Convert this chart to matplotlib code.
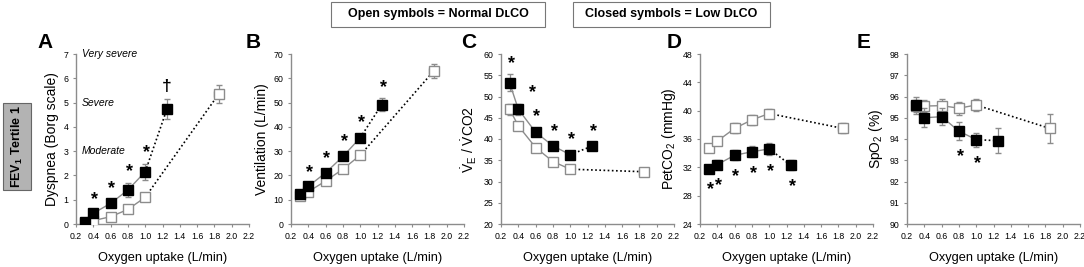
import matplotlib.pyplot as plt
import numpy as np
import matplotlib as mpl
from matplotlib.patches import Rectangle

plt.style.use("default")
mpl.rcParams["font.family"] = ["Liberation Sans", "DejaVu Sans"]
mpl.rcParams["mathtext.fontset"] = "custom"
mpl.rcParams["mathtext.rm"] = "Liberation Sans"
mpl.rcParams["mathtext.it"] = "Liberation Sans:italic"
mpl.rcParams["mathtext.bf"] = "Liberation Sans:bold"

# -----------------------------
# Data (closed = low DLCO, open = normal DLCO)
# -----------------------------
x_closed = [0.3, 0.4, 0.6, 0.8, 1.0, 1.25]
x_open = [0.3, 0.4, 0.6, 0.8, 1.0, 1.85]
xerr_closed_peak = 0.03
xerr_open_peak = 0.05

dysp_closed = [0.1, 0.44, 0.85, 1.4, 2.15, 4.72]
dysp_closed_err = [0.05, 0.12, 0.15, 0.3, 0.33, 0.41]
dysp_open = [0.05, 0.14, 0.3, 0.6, 1.1, 5.35]
dysp_open_err = [0.03, 0.05, 0.08, 0.1, 0.16, 0.38]
dysp_stars = [0, 1, 1, 1, 1, 0]

vent_closed = [12.5, 15.5, 21.1, 27.8, 35.5, 49.2]
vent_closed_err = [1.0, 1.0, 1.2, 1.5, 1.5, 2.5]
vent_open = [11.5, 13.3, 17.7, 22.6, 28.3, 63.0]
vent_open_err = [1.0, 1.0, 1.0, 1.0, 1.2, 2.8]
vent_stars = [0, 1, 1, 1, 1, 1]

veco2_closed = [53.2, 47.0, 41.6, 38.4, 36.3, 38.3]
veco2_closed_err = [2.0, 1.3, 1.0, 0.8, 0.8, 0.8]
veco2_open = [47.0, 43.1, 38.0, 34.7, 32.9, 32.3]
veco2_open_err = [1.3, 0.8, 0.6, 0.6, 0.6, 0.6]
veco2_stars = [1, 1, 1, 1, 1, 1]

petco2_closed = [31.7, 32.4, 33.7, 34.2, 34.6, 32.3]
petco2_closed_err = [0.5, 0.6, 0.7, 0.8, 0.8, 0.7]
petco2_open = [34.7, 35.7, 37.5, 38.7, 39.6, 37.5]
petco2_open_err = [0.5, 0.6, 0.7, 0.7, 0.7, 0.7]
petco2_stars = [1, 1, 1, 1, 1, 1]

spo2_closed = [95.58, 95.0, 95.05, 94.37, 93.97, 93.92]
spo2_closed_err = [0.4, 0.45, 0.4, 0.42, 0.33, 0.6]
spo2_open = [95.55, 95.55, 95.57, 95.45, 95.6, 94.5]
spo2_open_err = [0.3, 0.3, 0.3, 0.3, 0.3, 0.67]
spo2_stars = [0, 0, 0, 1, 1, 0]

x_ticks = np.round(np.arange(0.2, 2.21, 0.2), 1)

panels = [
    dict(letter="A", ylabel="Dyspnea (Borg scale)", ylim=(0, 7), yticks=np.arange(0, 8, 1),
         closed=dysp_closed, cerr=dysp_closed_err, open=dysp_open, oerr=dysp_open_err,
         stars=dysp_stars, star_dir=1, left=76, letter_x=-0.18),
    dict(letter="B", ylabel="Ventilation (L/min)", ylim=(0, 70), yticks=np.arange(0, 71, 10),
         closed=vent_closed, cerr=vent_closed_err, open=vent_open, oerr=vent_open_err,
         stars=vent_stars, star_dir=1, left=291, letter_x=-0.22),
    dict(letter="C", ylabel=r"$\dot{\mathrm{V}}_{\mathrm{E}}$ / $\dot{\mathrm{V}}$CO2", ylim=(20, 60),
         yticks=np.arange(20, 61, 5),
         closed=veco2_closed, cerr=veco2_closed_err, open=veco2_open, oerr=veco2_open_err,
         stars=veco2_stars, star_dir=1, left=501, letter_x=-0.185),
    dict(letter="D", ylabel=r"PetCO$_2$ (mmHg)", ylim=(24, 48), yticks=np.arange(24, 49, 4),
         closed=petco2_closed, cerr=petco2_closed_err, open=petco2_open, oerr=petco2_open_err,
         stars=petco2_stars, star_dir=-1, left=700, letter_x=-0.15),
    dict(letter="E", ylabel=r"SpO$_2$ (%)", ylim=(90, 98), yticks=np.arange(90, 99, 1),
         closed=spo2_closed, cerr=spo2_closed_err, open=spo2_open, oerr=spo2_open_err,
         stars=spo2_stars, star_dir=-1, left=907, letter_x=-0.25),
]

W, H = 1084, 267
fig = plt.figure(figsize=(W / 100, H / 100), dpi=100, facecolor="white")

GRAY = "#8c8c8c"
for p in panels:
    ax = fig.add_axes([p["left"] / W, 1 - 224 / H, 173 / W, 170 / H])
    yc, ec = p["closed"], p["cerr"]
    yo, eo = p["open"], p["oerr"]

    # solid part up to 1.0, dotted to peak
    ax.plot(x_open[:5], yo[:5], color=GRAY, lw=1.0, zorder=2)
    ax.plot(x_open[4:], yo[4:], color="black", lw=1.2, ls=(0, (1, 1.5)), zorder=2)
    ax.plot(x_closed[:5], yc[:5], color=GRAY, lw=1.0, zorder=3)
    ax.plot(x_closed[4:], yc[4:], color="black", lw=1.2, ls=(0, (1, 1.5)), zorder=3)

    xo_err = [0] * 5 + [xerr_open_peak]
    xc_err = [0] * 5 + [xerr_closed_peak]
    ax.errorbar(x_open, yo, yerr=eo, xerr=xo_err, fmt="s", ms=7, mfc="white", mec=GRAY,
                mew=1.0, ecolor=GRAY, elinewidth=0.9, capsize=2.5, zorder=4)
    ax.errorbar(x_closed, yc, yerr=ec, xerr=xc_err, fmt="s", ms=7, mfc="black", mec="black",
                mew=1.0, ecolor=GRAY, elinewidth=0.9, capsize=2.5, zorder=5)

    # significance stars
    for i, (xi, yi, ei, s) in enumerate(zip(x_closed, yc, ec, p["stars"])):
        if s:
            d = p["star_dir"]
            dx = 1
            if p["letter"] == "C" and i == 1:
                dx = 10
            ax.annotate("*", xy=(xi, yi + d * ei), xytext=(dx, 2 * d if d > 0 else -12),
                        textcoords="offset points", ha="center",
                        va="bottom" if d > 0 else "center", fontsize=13, fontweight="bold")
    if p["letter"] == "A":
        ax.annotate("†", xy=(x_closed[5], yc[5] + ec[5]), xytext=(0, 4),
                    textcoords="offset points", ha="center", va="bottom",
                    fontsize=12.5, fontweight="bold")
        for lab, yv in [("Very severe", 7), ("Severe", 5), ("Moderate", 3)]:
            ax.text(0.27, yv, lab, style="italic", fontsize=7.5, va="center", ha="left")

    ax.set_xlim(0.2, 2.2)
    ax.set_ylim(*p["ylim"])
    ax.set_xticks(x_ticks)
    ax.set_xticklabels([f"{v:.1f}" for v in x_ticks])
    ax.set_yticks(p["yticks"])
    ax.set_yticklabels([str(int(v)) for v in p["yticks"]])
    for side in ["top", "right"]:
        ax.spines[side].set_visible(False)
    for side in ["left", "bottom"]:
        ax.spines[side].set_color(GRAY)
        ax.spines[side].set_linewidth(1.0)
    ax.tick_params(axis="both", labelsize=6.3, length=2.5, width=0.8, color=GRAY, pad=3)
    ax.set_xlabel("Oxygen uptake (L/min)", fontsize=9.2, labelpad=8)
    ax.set_ylabel(p["ylabel"], fontsize=10, labelpad=3)
    ax.text(p["letter_x"], 1.07, p["letter"], transform=ax.transAxes, fontsize=15,
            fontweight="bold", ha="center", va="center")
    ax.patch.set_alpha(0)

# legend boxes
for x0, x1, txt in [(331, 545, "Open symbols = Normal DʟCO"),
                    (573, 770, "Closed symbols = Low DʟCO")]:
    fig.patches.append(Rectangle((x0 / W, 1 - 27 / H), (x1 - x0) / W, 25 / H,
                                 transform=fig.transFigure, fill=False,
                                 edgecolor="#777777", lw=0.8))
    fig.text((x0 + x1) / 2 / W, 1 - 14.5 / H, txt, ha="center", va="center",
             fontsize=9, fontweight="bold")

# row label
fig.patches.append(Rectangle((3 / W, 1 - 190 / H), 28 / W, 87 / H, transform=fig.transFigure,
                             facecolor="#b3b3b3", edgecolor="#666666", lw=0.8))
fig.text(17 / W, 1 - 146.5 / H, r"FEV$_\mathbf{1}$ Tertile 1", rotation=90, ha="center",
         va="center", fontsize=9, fontweight="bold")

fig.savefig("out.png", dpi=100, facecolor="white")
